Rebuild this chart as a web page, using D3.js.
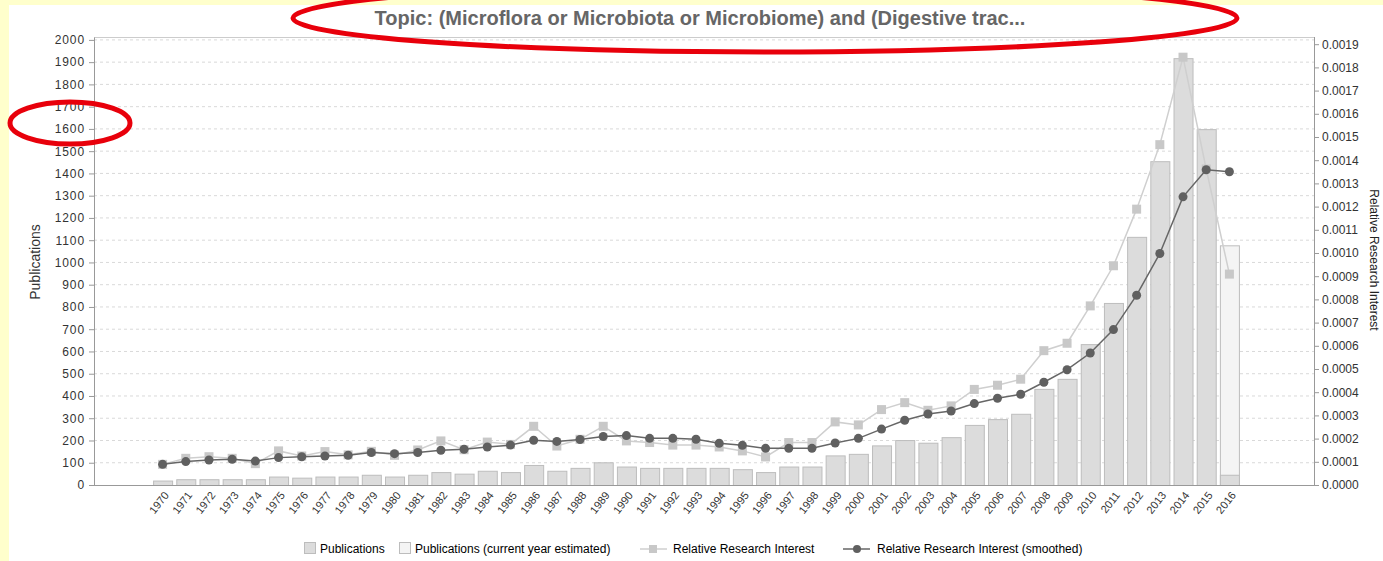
<!DOCTYPE html>
<html>
<head>
<meta charset="utf-8">
<style>
  body { margin: 0; background: #ffffcc; }
  svg { display: block; font-family: "Liberation Sans", Arial, sans-serif; }
  .grid line { stroke: #d9d9d9; stroke-dasharray: 3,3; }
  .axis path, .axis line { stroke: #999; }
  .axis text { fill: #333; }
</style>
</head>
<body>
<svg width="1383" height="561"></svg>
<script src="https://d3js.org/d3.v7.min.js"></script>
<script>

var years = d3.range(1970, 2017).map(String);

// publications per year (2016 is the part counted so far)
var publications = [20, 26, 26, 26, 26, 38, 33, 38, 38, 46, 38, 46, 58, 51, 64, 58, 90, 64, 77, 102,
  83, 77, 77, 77, 77, 71, 58, 83, 83, 133, 140, 178, 202, 190, 215, 270, 296, 320, 432, 477,
  633, 818, 1115, 1455, 1918, 1599, 46];

// estimate for the current year (only 2016)
var estimated = {"2016": 1077};

// relative research interest, raw and smoothed (x 0.0001)
var rri = [0.89, 1.15, 1.22, 1.15, 0.92, 1.47, 1.25, 1.44, 1.30, 1.45, 1.28, 1.51, 1.90, 1.52, 1.85, 1.75,
  2.53, 1.68, 1.97, 2.53, 1.90, 1.83, 1.72, 1.72, 1.64, 1.47, 1.21, 1.83, 1.83, 2.72, 2.59, 3.25,
  3.55, 3.22, 3.41, 4.12, 4.30, 4.56, 5.79, 6.11, 7.72, 9.45, 11.89, 14.67, 18.44, 13.62, 9.09];

var rriSmooth = [0.89, 1.01, 1.08, 1.11, 1.03, 1.18, 1.22, 1.25, 1.28, 1.40, 1.35, 1.40, 1.50, 1.54, 1.64, 1.72,
  1.93, 1.88, 1.96, 2.09, 2.13, 2.01, 2.01, 1.97, 1.80, 1.71, 1.58, 1.58, 1.58, 1.81, 2.01, 2.41,
  2.79, 3.06, 3.19, 3.51, 3.74, 3.91, 4.43, 4.97, 5.69, 6.70, 8.18, 9.98, 12.42, 13.59, 13.50];

var leftTicks = d3.range(0, 2001, 100);
var rightTicks = d3.range(0, 20, 1);

var svg = d3.select("svg");

// white panel on the yellow page
svg.append("rect").attr("x", 9).attr("y", 5).attr("width", 1374).attr("height", 556).attr("fill", "#fff");

var plot = {left: 94, right: 1314, top: 37, bottom: 485};

var x = d3.scaleBand()
    .domain(years)
    .range([151, 1241])
    .paddingInner(0.18)
    .paddingOuter(0.09);

var y = d3.scaleLinear().domain([0, 2013]).range([plot.bottom, plot.top]);
var y2 = d3.scaleLinear().domain([0, 19.31]).range([plot.bottom, plot.top]);

// grid
svg.append("g").attr("class", "grid")
  .selectAll("line").data(leftTicks.slice(1))
  .enter().append("line")
    .attr("x1", plot.left).attr("x2", plot.right)
    .attr("y1", function(d) { return y(d); })
    .attr("y2", function(d) { return y(d); });

// plot frame (top)
svg.append("line")
  .attr("x1", plot.left).attr("x2", plot.right)
  .attr("y1", plot.top + 0.5).attr("y2", plot.top + 0.5)
  .attr("stroke", "#ccc");

// bars
var bars = svg.append("g");
years.forEach(function(yr, i) {
  if (estimated[yr] !== undefined) {
    bars.append("rect")
      .attr("x", x(yr) + 0.5).attr("width", x.bandwidth())
      .attr("y", y(estimated[yr]) + 0.5).attr("height", y(0) - y(estimated[yr]))
      .attr("fill", "#f4f4f4").attr("stroke", "#bdbdbd");
  }
  bars.append("rect")
    .attr("x", x(yr) + 0.5).attr("width", x.bandwidth())
    .attr("y", y(publications[i]) + 0.5).attr("height", y(0) - y(publications[i]))
    .attr("fill", "#dcdcdc").attr("stroke", "#bdbdbd");
});

var cx = function(d, i) { return x(years[i]) + x.bandwidth() / 2; };

// raw interest line
var line = d3.line().x(cx).y(function(d) { return y2(d); });

svg.append("path").datum(rri)
  .attr("d", line).attr("fill", "none")
  .attr("stroke", "#cfcfcf").attr("stroke-width", 1.5);

svg.append("g").selectAll("rect").data(rri)
  .enter().append("rect")
    .attr("x", function(d, i) { return cx(d, i) - 4.5; })
    .attr("y", function(d) { return y2(d) - 4.5; })
    .attr("width", 9).attr("height", 9)
    .attr("fill", "#c8c8c8");

// smoothed line
svg.append("path").datum(rriSmooth)
  .attr("d", line).attr("fill", "none")
  .attr("stroke", "#666").attr("stroke-width", 1.5);

svg.append("g").selectAll("circle").data(rriSmooth)
  .enter().append("circle")
    .attr("cx", cx)
    .attr("cy", function(d) { return y2(d); })
    .attr("r", 4.5)
    .attr("fill", "#606060");

// left axis
var gl = svg.append("g").attr("class", "axis")
  .attr("transform", "translate(" + plot.left + ",0)")
  .call(d3.axisLeft(y).tickValues(leftTicks).tickFormat(d3.format("d"))
    .tickSize(5).tickSizeOuter(0).tickPadding(4));
gl.selectAll("text").style("font-size", "12px").style("letter-spacing", "0.9px");

// right axis
var gr = svg.append("g").attr("class", "axis")
  .attr("transform", "translate(" + plot.right + ",0)")
  .call(d3.axisRight(y2).tickValues(rightTicks).tickSize(5).tickSizeOuter(0).tickPadding(3)
    .tickFormat(function(d) { return (d / 10000).toFixed(4); }));
gr.selectAll("text").style("font-size", "12px");
gr.select(".domain").attr("d", "M0.5," + plot.top + "V" + plot.bottom);

// bottom axis
var gb = svg.append("g").attr("class", "axis")
  .attr("transform", "translate(0," + plot.bottom + ")");
gb.append("line").attr("x1", plot.left).attr("x2", plot.right).attr("y1", 0.5).attr("y2", 0.5).attr("stroke", "#999");
gb.selectAll("text").data(years).enter().append("text")
  .attr("transform", function(d) { return "translate(" + (x(d) + x.bandwidth() / 2 + 4) + ",8) rotate(-52)"; })
  .attr("text-anchor", "end")
  .attr("dy", "0.35em")
  .style("font-size", "11px")
  .text(function(d) { return d; });

// axis titles
svg.append("text")
  .attr("transform", "translate(40,262) rotate(-90)")
  .attr("text-anchor", "middle")
  .style("font-size", "14px").attr("fill", "#333")
  .text("Publications");

svg.append("text")
  .attr("transform", "translate(1370,260) rotate(90)")
  .attr("text-anchor", "middle")
  .style("font-size", "12px").attr("fill", "#222")
  .text("Relative Research Interest");

// title
svg.append("text")
  .attr("x", 700).attr("y", 25)
  .attr("text-anchor", "middle")
  .style("font-size", "20px").style("font-weight", "bold")
  .attr("fill", "#666")
  .text("Topic: (Microflora or Microbiota or Microbiome) and (Digestive trac...");

// legend
var leg = svg.append("g").style("font-size", "12px");
leg.append("rect").attr("x", 304.5).attr("y", 542.5).attr("width", 11).attr("height", 11).attr("fill", "#dcdcdc").attr("stroke", "#bdbdbd");
leg.append("text").attr("x", 320).attr("y", 553).text("Publications");
leg.append("rect").attr("x", 399.5).attr("y", 542.5).attr("width", 11).attr("height", 11).attr("fill", "#f4f4f4").attr("stroke", "#bdbdbd");
leg.append("text").attr("x", 415).attr("y", 553).text("Publications (current year estimated)");
leg.append("line").attr("x1", 640).attr("x2", 667).attr("y1", 549).attr("y2", 549).attr("stroke", "#cfcfcf").attr("stroke-width", 1.5);
leg.append("rect").attr("x", 649).attr("y", 545).attr("width", 8).attr("height", 8).attr("fill", "#c8c8c8");
leg.append("text").attr("x", 673).attr("y", 553).text("Relative Research Interest");
leg.append("line").attr("x1", 843).attr("x2", 870).attr("y1", 549).attr("y2", 549).attr("stroke", "#666").attr("stroke-width", 1.5);
leg.append("circle").attr("cx", 857).attr("cy", 549).attr("r", 4).attr("fill", "#606060");
leg.append("text").attr("x", 877).attr("y", 553).text("Relative Research Interest (smoothed)");

// red highlight ellipses
svg.append("ellipse").attr("cx", 765).attr("cy", 18).attr("rx", 472).attr("ry", 34)
  .attr("fill", "none").attr("stroke", "#e8000b").attr("stroke-width", 5);
svg.append("ellipse").attr("cx", 70).attr("cy", 123).attr("rx", 60).attr("ry", 21)
  .attr("fill", "none").attr("stroke", "#e8000b").attr("stroke-width", 5);

</script>
</body>
</html>
